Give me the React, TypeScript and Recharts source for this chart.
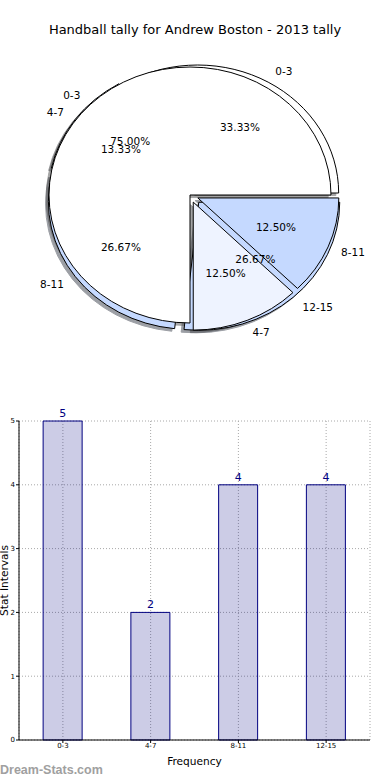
import React from 'react';
import { PieChart, Pie, BarChart, Bar, XAxis, YAxis, CartesianGrid, LabelList } from 'recharts';

const FONT = '"DejaVu Sans", Verdana, sans-serif';

const titleText = 'Handball tally for Andrew Boston - 2013 tally';
const categories = ['0-3', '4-7', '8-11', '12-15'];
const tallyCounts = [5, 2, 4, 4];
const overlayCategories = ['0-3', '4-7', '8-11'];
const overlayCounts = [6, 1, 1];
const tallyExplode = [0.045, 0.045, 0.045, 0.045];
const overlayExplode = [0, 0.06, 0.06];
const tallyColors = ['#ffffff', '#eef3ff', '#c5d9ff', '#c5d9ff'];
const overlayColors = ['#ffffff', '#eef3ff', '#c5d9ff'];
const yTicks = [0, 1, 2, 3, 4, 5];
const xAxisLabel = 'Frequency';
const yAxisLabel = 'Stat Intervals';
const watermark = 'Dream-Stats.com';

const tallyData = categories.map((name, i) => ({ name, value: tallyCounts[i] }));
const overlayData = overlayCategories.map((name, i) => ({ name, value: overlayCounts[i] }));

const RADIUS = 128;
const SX = 141 / 128;
const RAD = Math.PI / 180;

function shade(hex: string): string {
  const n = parseInt(hex.slice(1), 16);
  const r = Math.round(((n >> 16) & 255) * 0.3);
  const g = Math.round(((n >> 8) & 255) * 0.3);
  const b = Math.round((n & 255) * 0.3);
  return `rgb(${r},${g},${b})`;
}

function wedgePath(cx: number, cy: number, rx: number, ry: number, a0: number, a1: number): string {
  const x0 = cx + rx * Math.cos(a0 * RAD);
  const y0 = cy - ry * Math.sin(a0 * RAD);
  const x1 = cx + rx * Math.cos(a1 * RAD);
  const y1 = cy - ry * Math.sin(a1 * RAD);
  const large = Math.abs(a1 - a0) > 180 ? 1 : 0;
  return `M${cx},${cy} L${x0},${y0} A${rx},${ry} 0 ${large} 0 ${x1},${y1} Z`;
}

function explodedCenter(p: any, explode: number[]) {
  const e = explode[p.index] || 0;
  const m = p.midAngle * RAD;
  return {
    x: p.cx + e * p.outerRadius * SX * Math.cos(m),
    y: p.cy - e * p.outerRadius * Math.sin(m),
  };
}

const makeShadow = (explode: number[], colors: string[]) => (p: any) => {
  const c = explodedCenter(p, explode);
  const r = p.outerRadius;
  const d = wedgePath(c.x - 0.02 * r * SX, c.y + 0.02 * r, r * SX, r, p.startAngle, p.endAngle);
  const col = shade(colors[p.index]);
  return <path d={d} fill={col} stroke={col} strokeWidth={1} opacity={0.5} />;
};

const makeWedge = (explode: number[], colors: string[]) => (p: any) => {
  const c = explodedCenter(p, explode);
  const r = p.outerRadius;
  const d = wedgePath(c.x, c.y, r * SX, r, p.startAngle, p.endAngle);
  return <path d={d} fill={colors[p.index]} stroke="#000" strokeWidth={1} />;
};

const makeText = (explode: number[]) => (p: any) => {
  const c = explodedCenter(p, explode);
  const r = p.outerRadius;
  const m = p.midAngle * RAD;
  const lx = c.x + 1.1 * r * SX * Math.cos(m);
  const ly = c.y - 1.1 * r * Math.sin(m);
  const px = c.x + 0.6 * r * SX * Math.cos(m);
  const py = c.y - 0.6 * r * Math.sin(m);
  const name = p.payload?.name ?? p.name;
  return (
    <g>
      <text x={lx} y={ly} textAnchor={lx > c.x ? 'start' : 'end'} dominantBaseline="central"
        fontFamily={FONT} fontSize={10.5} fill="#000">{name}</text>
      <text x={px} y={py} textAnchor="middle" dominantBaseline="central"
        fontFamily={FONT} fontSize={10.5} fill="#000">{(p.percent * 100).toFixed(2)}%</text>
    </g>
  );
};

const pieCommon = {
  dataKey: 'value',
  nameKey: 'name',
  outerRadius: RADIUS,
  startAngle: 0,
  endAngle: 360,
  fill: 'none',
  stroke: 'none',
  labelLine: false,
  isAnimationActive: false,
};

const TALLY_CENTER = { cx: 194.5, cy: 198 };
const OVERLAY_CENTER = { cx: 190, cy: 195 };

export default function App() {
  return (
    <div style={{ position: 'absolute', left: 0, top: 0, width: 390, height: 780, background: '#fff', overflow: 'hidden' }}>
      <div style={{ position: 'absolute', left: 0, top: 22, width: 390, textAlign: 'center', fontFamily: FONT, fontSize: 13, lineHeight: '15px', color: '#000' }}>
        {titleText}
      </div>
      <div style={{ position: 'absolute', left: 0, top: 0 }}>
        <PieChart width={390} height={390} margin={{ top: 0, right: 0, bottom: 0, left: 0 }}>
          <Pie {...pieCommon} data={tallyData} {...TALLY_CENTER} label={makeShadow(tallyExplode, tallyColors)} />
          <Pie {...pieCommon} data={overlayData} {...OVERLAY_CENTER} label={makeShadow(overlayExplode, overlayColors)} />
          <Pie {...pieCommon} data={tallyData} {...TALLY_CENTER} label={makeWedge(tallyExplode, tallyColors)} />
          <Pie {...pieCommon} data={overlayData} {...OVERLAY_CENTER} label={makeWedge(overlayExplode, overlayColors)} />
          <Pie {...pieCommon} data={tallyData} {...TALLY_CENTER} label={makeText(tallyExplode)} />
          <Pie {...pieCommon} data={overlayData} {...OVERLAY_CENTER} label={makeText(overlayExplode)} />
        </PieChart>
      </div>
      <div style={{ position: 'absolute', left: 0, top: 400 }}>
        <BarChart width={390} height={380} data={tallyData} margin={{ top: 21, right: 20, bottom: 0, left: 0 }} barCategoryGap="27.5%">
          <CartesianGrid stroke="#a8a8a8" strokeDasharray="1 2" />
          <XAxis dataKey="name" height={40} interval={0} tickSize={3} tickMargin={0}
            tick={{ fontSize: 7, fill: '#000', fontFamily: FONT }}
            axisLine={{ stroke: '#000' }} tickLine={{ stroke: '#000' }}
            label={(props: any) => {
              const vb = props.viewBox || {};
              return (
                <text x={vb.x + vb.width / 2} y={vb.y + 21} textAnchor="middle" dominantBaseline="central"
                  fontFamily={FONT} fontSize={10.6} fill="#000">{xAxisLabel}</text>
              );
            }} />
          <XAxis xAxisId="top" orientation="top" dataKey="name" height={0} tick={false} axisLine={{ stroke: '#000' }} />
          <YAxis domain={[0, 5]} ticks={yTicks} width={19} tickSize={3} tickMargin={1}
            tick={{ fontSize: 7, fill: '#000', fontFamily: FONT }}
            axisLine={{ stroke: '#000' }} tickLine={{ stroke: '#000' }}
            label={(props: any) => {
              const vb = props.viewBox || {};
              return (
                <text transform={`translate(${vb.x + 8}, ${vb.y + vb.height / 2}) rotate(-90)`} textAnchor="middle"
                  fontFamily={FONT} fontSize={10.6} fill="#000">{yAxisLabel}</text>
              );
            }} />
          <YAxis yAxisId="right" orientation="right" width={0} domain={[0, 5]} ticks={yTicks} tickSize={2}
            tickFormatter={() => ''} axisLine={{ stroke: '#000' }} tickLine={{ stroke: '#000' }} />
          <Bar dataKey="value" fill="#000080" fillOpacity={0.2} stroke="#000080" strokeWidth={1} isAnimationActive={false}>
            <LabelList dataKey="value" position="top" offset={4} fill="#000080" fontSize={11} fontFamily={FONT} />
          </Bar>
        </BarChart>
      </div>
      <div style={{ position: 'absolute', left: 0, top: 763, fontFamily: '"Liberation Sans", Arial, sans-serif', fontWeight: 'bold', fontSize: 12.5, lineHeight: '15px', color: '#a0a0a0' }}>
        {watermark}
      </div>
    </div>
  );
}
